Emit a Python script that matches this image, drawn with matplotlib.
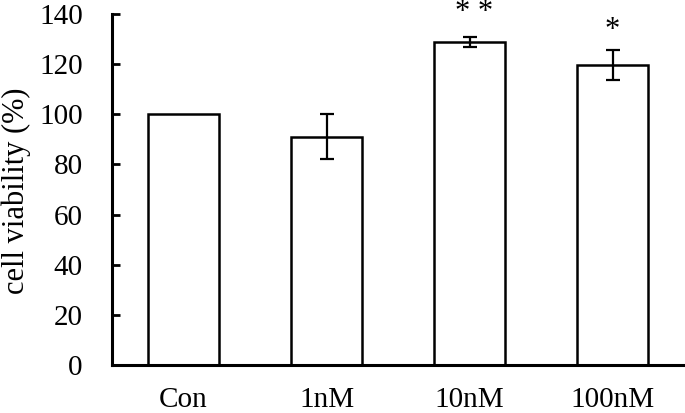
import matplotlib
matplotlib.use("Agg")
import matplotlib.pyplot as plt

plt.rcParams['font.family'] = ['Liberation Serif', 'DejaVu Serif']

groups = ["Con", "1nM", "10nM", "100nM"]
viability = [100, 91, 128.7, 119.6]
err = [0, 9, 2, 5.9]
stars = ["", "", "* *", "*"]
star_y = [0, 0, 140.4, 133.6]

fig = plt.figure(figsize=(6.85, 4.13), dpi=100)
ax = fig.add_axes([112/685, 48/413, 572/685, 351/413])

x = range(len(groups))
ax.bar(x, viability, width=0.5, color="white", edgecolor="black", linewidth=1.8)
for i in x:
    if err[i] > 0:
        ax.errorbar(i, viability[i], yerr=err[i], fmt="none", ecolor="black",
                    elinewidth=1.6, capsize=5, capthick=1.6)
    if stars[i]:
        ax.text(i + (0.035 if stars[i] == "* *" else 0), star_y[i], stars[i],
                ha="center", va="center", fontsize=22, clip_on=False)

ax.set_xlim(-0.5, 3.5)
ax.set_ylim(0, 140)
ax.set_yticks(range(0, 141, 20))
ax.set_xticks(list(x))
ax.set_xticklabels(groups)
ax.tick_params(axis="y", direction="in", length=6, width=2, labelsize=21, pad=21)
ax.tick_params(axis="x", length=0, labelsize=21, pad=16)
ax.spines["top"].set_visible(False)
ax.spines["right"].set_visible(False)
ax.spines["left"].set_linewidth(2.2)
ax.spines["bottom"].set_linewidth(2.2)
ax.set_ylabel("cell viability (%)", fontsize=22)
ax.yaxis.set_label_coords(-0.142, 0.496)

fig.savefig("out.png", dpi=100)
